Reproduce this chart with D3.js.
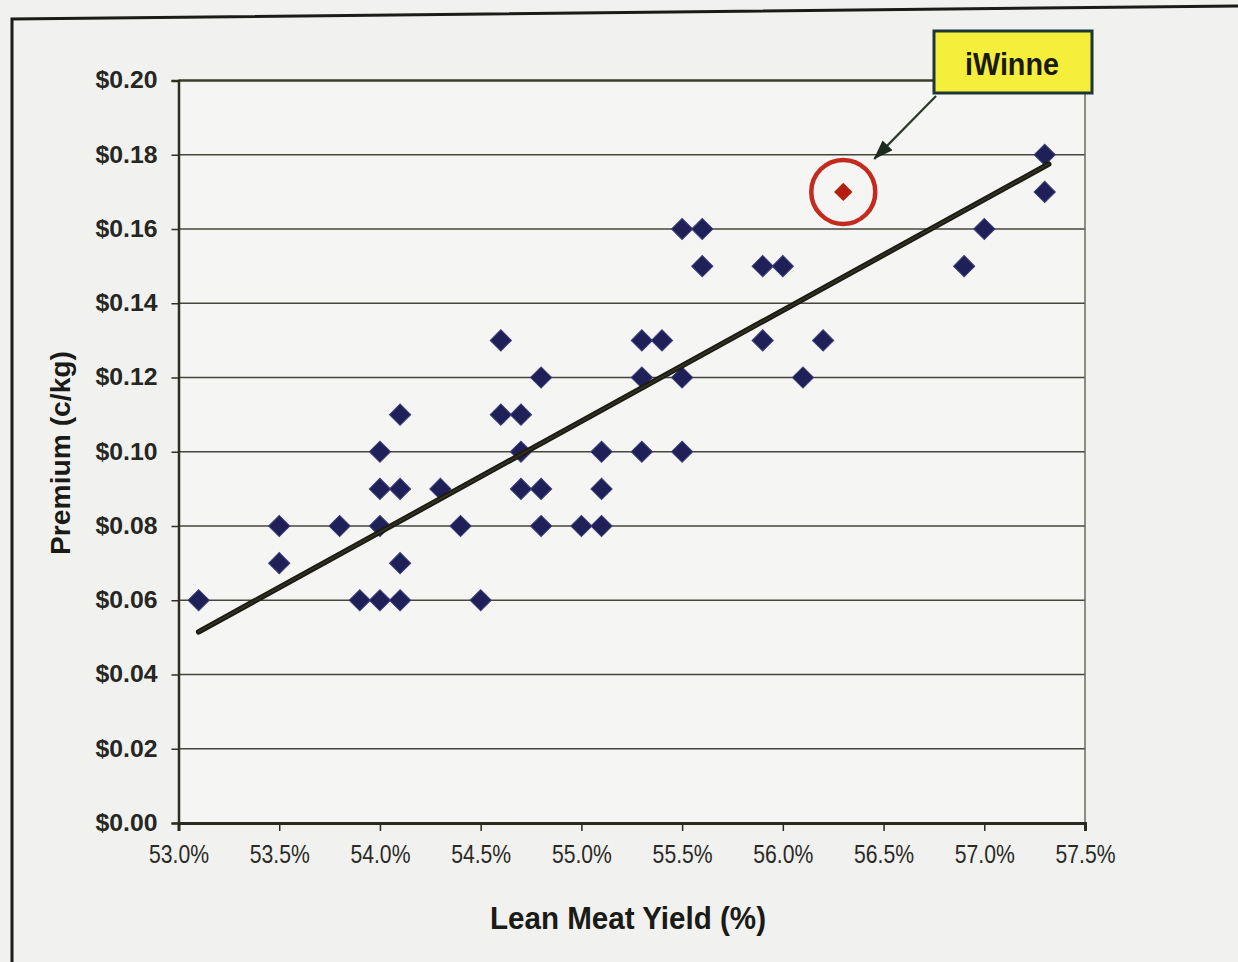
<!DOCTYPE html>
<html>
<head>
<meta charset="utf-8">
<script src="https://cdn.jsdelivr.net/npm/d3@7"></script>
<style>
  html, body { margin: 0; padding: 0; background: #f1f1ef; }
  svg { display: block; }
</style>
</head>
<body>
<svg id="chart" width="1238" height="962"></svg>
<script>
// ---- data ----
const leanMeatYield = [53.1, 53.5, 53.5, 53.8, 53.9, 54.0, 54.0, 54.0, 54.0, 54.1, 54.1, 54.1, 54.1,
  54.3, 54.4, 54.5, 54.6, 54.6, 54.7, 54.7, 54.7, 54.8, 54.8, 54.8, 55.0, 55.1, 55.1, 55.1,
  55.3, 55.3, 55.3, 55.4, 55.5, 55.5, 55.5, 55.6, 55.6, 55.9, 55.9, 56.0, 56.1, 56.2,
  56.9, 57.0, 57.3, 57.3];
const premium = [0.06, 0.08, 0.07, 0.08, 0.06, 0.06, 0.08, 0.09, 0.10, 0.06, 0.07, 0.09, 0.11,
  0.09, 0.08, 0.06, 0.13, 0.11, 0.11, 0.10, 0.09, 0.12, 0.09, 0.08, 0.08, 0.08, 0.09, 0.10,
  0.13, 0.12, 0.10, 0.13, 0.16, 0.12, 0.10, 0.16, 0.15, 0.15, 0.13, 0.15, 0.12, 0.13,
  0.15, 0.16, 0.18, 0.17];
const highlightX = [56.3];
const highlightY = [0.17];
const highlightLabel = "iWinne";
const trendX = [53.1, 57.32];
const trendY = [0.0515, 0.1775];
const xTicks = [53.0, 53.5, 54.0, 54.5, 55.0, 55.5, 56.0, 56.5, 57.0, 57.5];
const yTicks = [0, 0.02, 0.04, 0.06, 0.08, 0.10, 0.12, 0.14, 0.16, 0.18, 0.20];
const xTitle = "Lean Meat Yield (%)";
const yTitle = "Premium (c/kg)";

// ---- layout ----
const svg = d3.select("#chart");
const L = 178.5, R = 1085, T = 80.5, B = 823;
const x = d3.scaleLinear().domain([53.0, 57.5]).range([L, R]);
const y = d3.scaleLinear().domain([0, 0.20]).range([B, T]);

// outer frame (slightly skewed scan)
svg.append("path")
  .attr("d", "M12,962 L12,19 L1238,6")
  .attr("fill", "none").attr("stroke", "#1b1b18").attr("stroke-width", 3);

// plot background
svg.append("rect").attr("x", L).attr("y", T).attr("width", R - L).attr("height", B - T)
  .attr("fill", "#f5f5f3");

// gridlines
svg.append("g").selectAll("line").data(yTicks.filter(d => d > 0 && d < 0.2)).join("line")
  .attr("x1", L).attr("x2", R)
  .attr("y1", d => y(d)).attr("y2", d => y(d))
  .attr("stroke", "#46463a").attr("stroke-width", 1.3);

// top & right border
svg.append("line").attr("x1", L).attr("x2", R).attr("y1", T).attr("y2", T)
  .attr("stroke", "#3c3c2a").attr("stroke-width", 2.5);
svg.append("line").attr("x1", R).attr("x2", R).attr("y1", T).attr("y2", B)
  .attr("stroke", "#6a6a5e").attr("stroke-width", 1.5);

// y axis
const yAxis = svg.append("g").attr("transform", `translate(${L},0)`)
  .call(d3.axisLeft(y).tickValues(yTicks).tickSize(7).tickPadding(14)
    .tickFormat(d => "$" + d3.format(".2f")(d)));
yAxis.select(".domain").attr("stroke", "#2e2e20").attr("stroke-width", 2.5);
yAxis.selectAll(".tick line").attr("stroke", "#2e2e20").attr("stroke-width", 1.5);
yAxis.selectAll(".tick text")
  .attr("font-family", "Liberation Sans, Arial, sans-serif")
  .attr("font-weight", "bold").attr("font-size", 23).attr("fill", "#262622")
  .attr("textLength", 62).attr("lengthAdjust", "spacingAndGlyphs");

// x axis
const xAxis = svg.append("g").attr("transform", `translate(0,${B})`)
  .call(d3.axisBottom(x).tickValues(xTicks).tickSize(8).tickPadding(14)
    .tickFormat(d => d3.format(".1f")(d) + "%"));
xAxis.select(".domain").attr("stroke", "#2a2a1e").attr("stroke-width", 3);
xAxis.selectAll(".tick line").attr("stroke", "#2a2a1e").attr("stroke-width", 1.5);
xAxis.selectAll(".tick text")
  .attr("font-family", "Liberation Sans, Arial, sans-serif")
  .attr("font-size", 25).attr("fill", "#2a2a26")
  .attr("textLength", 60).attr("lengthAdjust", "spacingAndGlyphs");

// axis titles
svg.append("text").attr("x", 628).attr("y", 929)
  .attr("text-anchor", "middle")
  .attr("font-family", "Liberation Sans, Arial, sans-serif").attr("font-weight", "bold")
  .attr("font-size", 31).attr("fill", "#1a1a16")
  .attr("textLength", 276).attr("lengthAdjust", "spacingAndGlyphs")
  .text(xTitle);
svg.append("text")
  .attr("transform", "translate(70,453) rotate(-90)")
  .attr("text-anchor", "middle")
  .attr("font-family", "Liberation Sans, Arial, sans-serif").attr("font-weight", "bold")
  .attr("font-size", 28).attr("fill", "#1a1a16")
  .attr("textLength", 204).attr("lengthAdjust", "spacingAndGlyphs")
  .text(yTitle);

// points
const pts = leanMeatYield.map((v, i) => ({ x: v, y: premium[i] }));
const diamond = d3.symbol().type(d3.symbolSquare).size(225);
svg.append("g").selectAll("path").data(pts).join("path")
  .attr("d", diamond)
  .attr("transform", d => `translate(${x(d.x)},${y(d.y)}) rotate(45)`)
  .attr("fill", "#1f2057").attr("stroke", "#3b3d78").attr("stroke-width", 1);

// trend line
svg.append("line")
  .attr("x1", x(trendX[0])).attr("y1", y(trendY[0]))
  .attr("x2", x(trendX[1])).attr("y2", y(trendY[1]))
  .attr("stroke", "#1c1c12").attr("stroke-width", 5.5).attr("stroke-linecap", "round");
svg.append("line")
  .attr("x1", x(trendX[0])).attr("y1", y(trendY[0]))
  .attr("x2", x(trendX[1])).attr("y2", y(trendY[1]))
  .attr("stroke", "#3a3a2c").attr("stroke-width", 1.2).attr("stroke-linecap", "round");

// highlighted point
const hx = x(highlightX[0]), hy = y(highlightY[0]);
svg.append("circle").attr("cx", hx).attr("cy", hy).attr("r", 32)
  .attr("fill", "none").attr("stroke", "#c42a1e").attr("stroke-width", 4.5);
svg.append("path").attr("d", d3.symbol().type(d3.symbolSquare).size(170))
  .attr("transform", `translate(${hx},${hy}) rotate(45)`)
  .attr("fill", "#b3200f");

// callout
const defs = svg.append("defs");
defs.append("marker").attr("id", "arr").attr("viewBox", "0 0 20 14")
  .attr("refX", 19).attr("refY", 7).attr("markerWidth", 20).attr("markerHeight", 14)
  .attr("markerUnits", "userSpaceOnUse").attr("orient", "auto")
  .append("path").attr("d", "M0,0 L20,7 L0,14 Z").attr("fill", "#1e2a1e");
svg.append("line").attr("x1", 936).attr("y1", 96).attr("x2", hx + 31).attr("y2", hy - 33)
  .attr("stroke", "#2a3a2a").attr("stroke-width", 2.2).attr("marker-end", "url(#arr)");
svg.append("rect").attr("x", 934).attr("y", 31).attr("width", 158).attr("height", 62)
  .attr("fill", "#f5ee3b").attr("stroke", "#1d3636").attr("stroke-width", 3);
svg.append("text").attr("x", 1012).attr("y", 75).attr("text-anchor", "middle")
  .attr("font-family", "Liberation Sans, Arial, sans-serif").attr("font-weight", "bold")
  .attr("font-size", 32).attr("fill", "#1a1a12")
  .attr("textLength", 94).attr("lengthAdjust", "spacingAndGlyphs")
  .text(highlightLabel);
</script>
</body>
</html>
